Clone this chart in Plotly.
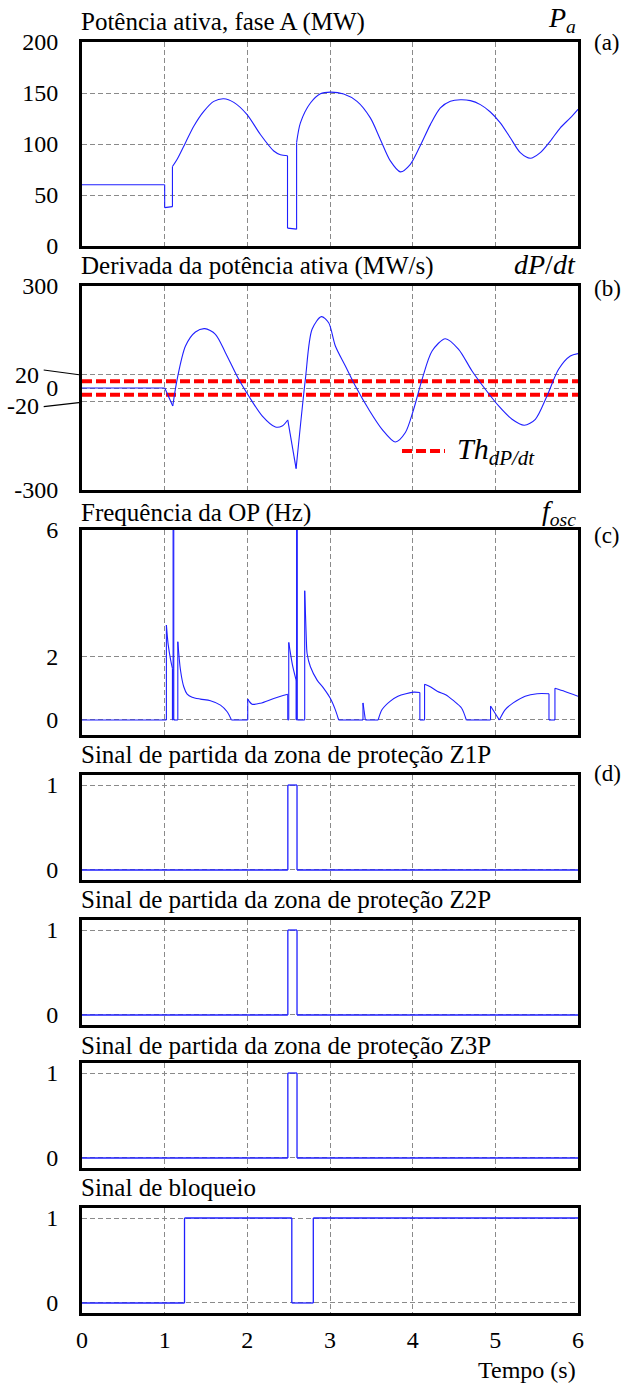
import plotly.graph_objects as go

# ---------------- data ----------------
# (a) active power, phase A (MW)
t_p = [0, 1.00, 1.00, 1.094, 1.094, 1.151, 1.252, 1.352, 1.473, 1.594, 1.715,
       1.836, 1.997, 2.158, 2.320, 2.400, 2.486, 2.486, 2.596, 2.596, 2.642,
       2.763, 2.884, 3.005, 3.166, 3.327, 3.488, 3.609, 3.730, 3.851, 3.972,
       4.093, 4.214, 4.335, 4.456, 4.577, 4.698, 4.819, 4.940, 5.060, 5.181,
       5.302, 5.423, 5.544, 5.665, 5.786, 5.907, 6.0]
p_a = [60, 60, 37.6, 38.6, 77.9, 85, 101.3, 117.4, 132, 141.8, 144.4,
       140.8, 128.8, 109.3, 93.1, 89.5, 88.5, 17.5, 16.5, 101.3, 120.7,
       140.2, 149.3, 150.9, 149, 141.8, 125.6, 104.5, 83.4, 72.7, 80.1,
       98.5, 119, 135.3, 141.8, 143.4, 142.5, 138.6, 131.4, 120.7, 106.1,
       91.5, 86, 91.5, 102.8, 115.9, 125.6, 134]
p_corners = []

# (b) derivative of active power (MW/s)
t_d = [0, 1.001, 1.098, 1.151, 1.252, 1.372, 1.485, 1.614, 1.735, 1.896,
       2.017, 2.179, 2.340, 2.421, 2.489, 2.590, 2.702, 2.783, 2.896, 2.984,
       3.065, 3.186, 3.307, 3.468, 3.630, 3.791, 3.912, 4.012, 4.114, 4.235,
       4.395, 4.556, 4.718, 4.879, 5.040, 5.202, 5.351, 5.484, 5.625, 5.765,
       5.907, 6.0]
dpdt = [0, 0, -52.9, 25.6, 123.5, 164.7, 174.7, 158, 104, 25.6,
        -23.5, -82, -114.7, -111.8, -94, -237, 25.6, 172.6, 210, 192,
        123.5, 64.7, 5.9, -62.6, -121.5, -158.8, -131, -62.6, 25.6, 108.8,
        145, 113.8, 50, -3.8, -52.9, -92, -109.7, -92, -23.5, 55,
        94, 101]
d_corners = [1.001, 1.098, 2.489, 2.590]
th_dpdt = 20

# (c) oscillation frequency (Hz)
t_f = [0, 1.021,
       1.021, 1.043, 1.072, 1.094,
       1.094, 1.102,
       1.102, 1.110,
       1.110, 1.159,
       1.159, 1.191, 1.231, 1.272, 1.332, 1.433, 1.554, 1.675, 1.756, 1.808,
       2.005,
       2.005, 2.058, 2.159, 2.320, 2.489,
       2.489, 2.501,
       2.501, 2.545, 2.590,
       2.590, 2.596,
       2.596, 2.604,
       2.604, 2.694,
       2.694, 2.713, 2.723, 2.763, 2.844, 2.924, 3.005, 3.065, 3.105,
       3.399,
       3.399, 3.428,
       3.582, 3.630, 3.726, 3.822, 3.918, 4.014, 4.087,
       4.087, 4.144,
       4.144, 4.207, 4.303, 4.399, 4.495, 4.591, 4.649,
       4.942,
       4.942, 5.048, 5.120, 5.216, 5.361, 5.505, 5.649,
       5.649, 5.721,
       5.721, 5.841, 6.0]
f_osc = [0, 0,
         3.0, 2.37, 1.9, 1.63,
         0, 0,
         6, 6,
         0, 0,
         2.47, 1.58, 1.05, 0.82, 0.72, 0.66, 0.61, 0.47, 0.26, 0,
         0,
         0.66, 0.5, 0.53, 0.68, 0.81,
         0, 0,
         2.45, 1.75, 1.26,
         0, 0,
         6, 6,
         0, 0,
         4.08, 2.6, 2.1, 1.68, 1.26, 1.0, 0.68, 0.32, 0,
         0,
         0.54, 0,
         0, 0.33, 0.59, 0.75, 0.83, 0.88, 0.87,
         0, 0,
         1.13, 1.06, 0.9, 0.8, 0.61, 0.38, 0,
         0,
         0.44, 0, 0.33, 0.54, 0.75, 0.83, 0.83,
         0, 0,
         1.0, 0.9, 0.75]
f_corners = [1.808, 3.105, 3.428, 3.582, 4.649, 5.048]

# (d) protection zone pick-up signals and blocking signal
t_z = [0, 2.490, 2.490, 2.601, 2.601, 6]
z1p = [0, 0, 1, 1, 0, 0]
z2p = [0, 0, 1, 1, 0, 0]
z3p = [0, 0, 1, 1, 0, 0]
t_blk = [0, 1.240, 1.240, 2.538, 2.538, 2.798, 2.798, 6]
blk = [0, 0, 1, 1, 0, 0, 1, 1]

x_ticks = [0, 1, 2, 3, 4, 5, 6]

titles = ["Potência ativa, fase A (MW)",
          "Derivada da potência ativa (MW/s)",
          "Frequência da OP (Hz)",
          "Sinal de partida da zona de proteção Z1P",
          "Sinal de partida da zona de proteção Z2P",
          "Sinal de partida da zona de proteção Z3P",
          "Sinal de bloqueio"]

# ---------------- layout geometry (pixels) ----------------
W, H = 622, 1385
ML, MR, MT, MB = 82, 44, 42, 72
PW, PH = W - ML - MR, H - MT - MB
FONT = "Liberation Serif, 'Times New Roman', Times, 'DejaVu Serif', serif"
BLUE = "#1f1fff"
GRID = "#8a8a8a"
GDASH = "5px,3px"

panels_px = [(42, 246), (286, 490), (530, 735), (775, 880),
             (920, 1025), (1063, 1168), (1208, 1313)]
title_y = [22, 266, 513, 754, 899, 1045, 1187]


def yp(py):
    return 1 - (py - MT) / PH


def xp(px):
    return (px - ML) / PW


fig = go.Figure()


def ids(k):
    return ("x" if k == 1 else f"x{k}"), ("y" if k == 1 else f"y{k}")


def draw(x, y, k, smooth=True, corners=(), width=1.1):
    xa, ya = ids(k)
    pieces = []
    cx, cy = [x[0]], [y[0]]
    for i in range(1, len(x)):
        if x[i] == x[i - 1]:
            pieces.append((cx, cy, True))
            pieces.append(([x[i - 1], x[i]], [y[i - 1], y[i]], False))
            cx, cy = [x[i]], [y[i]]
        else:
            cx.append(x[i])
            cy.append(y[i])
            if x[i] in corners:
                pieces.append((cx, cy, True))
                cx, cy = [x[i]], [y[i]]
    pieces.append((cx, cy, True))
    for px_, py_, sm in pieces:
        if len(px_) < 2:
            continue
        shape = "spline" if (sm and smooth and len(px_) > 2) else "linear"
        fig.add_trace(go.Scatter(
            x=px_, y=py_, mode="lines", xaxis=xa, yaxis=ya,
            line=dict(color=BLUE, width=width, shape=shape, smoothing=0.8),
            showlegend=False, hoverinfo="skip"))


# threshold lines (b)
fig.add_trace(go.Scatter(
    x=[x_ticks[0], x_ticks[-1], None, x_ticks[0], x_ticks[-1]],
    y=[th_dpdt, th_dpdt, None, -th_dpdt, -th_dpdt],
    mode="lines", xaxis="x2", yaxis="y2",
    line=dict(color="#ff0000", width=4, dash="10px,4px"),
    showlegend=False, hoverinfo="skip"))

draw(t_p, p_a, 1, corners=p_corners)
draw(t_d, dpdt, 2, corners=d_corners)
draw(t_f, f_osc, 3, corners=f_corners)
draw(t_z, z1p, 4, smooth=False, width=1.3)
draw(t_z, z2p, 5, smooth=False, width=1.3)
draw(t_z, z3p, 6, smooth=False, width=1.3)
draw(t_blk, blk, 7, smooth=False, width=1.3)

yconf = [
    dict(range=[0, 200], tickvals=[0, 50, 100, 150, 200]),
    dict(range=[-300, 300], tickvals=[-300, -40, 0, 40, 300],
         ticktext=["-300", " ", "0", " ", "300"]),
    dict(range=[-0.474, 6], tickvals=[0, 2, 6]),
    dict(range=[-0.118, 1.118], tickvals=[0, 1]),
    dict(range=[-0.118, 1.118], tickvals=[0, 1]),
    dict(range=[-0.118, 1.118], tickvals=[0, 1]),
    dict(range=[-0.118, 1.118], tickvals=[0, 1]),
]

layout = dict(
    width=W, height=H, autosize=False,
    margin=dict(l=ML, r=MR, t=MT, b=MB),
    paper_bgcolor="white", plot_bgcolor="white",
    font=dict(family=FONT, size=24, color="black"),
    showlegend=False,
)
axis_common = dict(showline=True, mirror=True, linecolor="black", linewidth=3,
                   showgrid=True, gridcolor=GRID, gridwidth=1, griddash=GDASH,
                   zeroline=False, ticks="", fixedrange=True,
                   tickfont=dict(family=FONT, size=24, color="black"))
for k in range(1, 8):
    top, bot = panels_px[k - 1]
    xa, ya = ids(k)
    xname = "xaxis" if k == 1 else f"xaxis{k}"
    yname = "yaxis" if k == 1 else f"yaxis{k}"
    layout[xname] = dict(axis_common, domain=[0, 1], anchor=ya, range=[0, 6],
                         tickvals=x_ticks, showticklabels=(k == 7),
                         ticklabelstandoff=3,
                         **({} if k == 1 else {"matches": "x"}))
    layout[yname] = dict(axis_common, domain=[yp(bot), yp(top)], anchor=xa,
                         ticklabelstandoff=16, **yconf[k - 1])

fig.update_layout(**layout)

ann = []
for k in range(7):
    ann.append(dict(text=titles[k], x=xp(80), y=yp(title_y[k]), xref="paper", yref="paper",
                    xanchor="left", yanchor="middle", showarrow=False, borderpad=0,
                    font=dict(family=FONT, size=25)))
# right-hand symbols
sym = [("<i>P<sub>a</sub></i>", 20), ("<i>dP</i>/<i>dt</i>", 264), ("<i>f<sub>osc</sub></i>", 512)]
for txt, py in sym:
    ann.append(dict(text=txt, x=1, y=yp(py), xref="paper", yref="paper",
                    xanchor="right", yanchor="middle", showarrow=False,
                    font=dict(family=FONT, size=28)))
for txt, py in [("(a)", 43), ("(b)", 288), ("(c)", 535), ("(d)", 773)]:
    ann.append(dict(text=txt, x=xp(593), y=yp(py), xref="paper", yref="paper",
                    xanchor="left", yanchor="middle", showarrow=False,
                    borderpad=0, font=dict(family=FONT, size=23)))
# threshold labels on (b)
for txt, py in [("20", 375), ("-20", 406)]:
    ann.append(dict(text=txt, x=xp(41), y=yp(py), xref="paper", yref="paper",
                    xanchor="right", yanchor="middle", showarrow=False,
                    font=dict(family=FONT, size=24)))
# legend text
ann.append(dict(text="<i>Th<sub>dP/dt</sub></i>", x=xp(455), y=yp(451),
                xref="paper", yref="paper", xanchor="left", yanchor="middle",
                showarrow=False, font=dict(family=FONT, size=30)))
# x axis title
ann.append(dict(text="Tempo (s)", x=1, y=yp(1370), xref="paper", yref="paper",
                xanchor="right", yanchor="middle", showarrow=False,
                font=dict(family=FONT, size=24)))

shapes = [
    dict(type="line", xref="paper", yref="paper", x0=xp(43.7), y0=yp(370),
         x1=xp(81), y1=yp(375), line=dict(color="black", width=1.2)),
    dict(type="line", xref="paper", yref="paper", x0=xp(43.7), y0=yp(406.7),
         x1=xp(81), y1=yp(402.3), line=dict(color="black", width=1.2)),
    dict(type="line", xref="paper", yref="paper", x0=xp(402), y0=yp(451),
         x1=xp(445), y1=yp(451), line=dict(color="#ff0000", width=4, dash="10px,4px")),
]
fig.update_layout(annotations=ann, shapes=shapes)

fig.write_html(
    "out.html",
    config={"displayModeBar": False},
    post_script="document.body.style.margin='0';document.body.style.overflow='hidden';",
)
